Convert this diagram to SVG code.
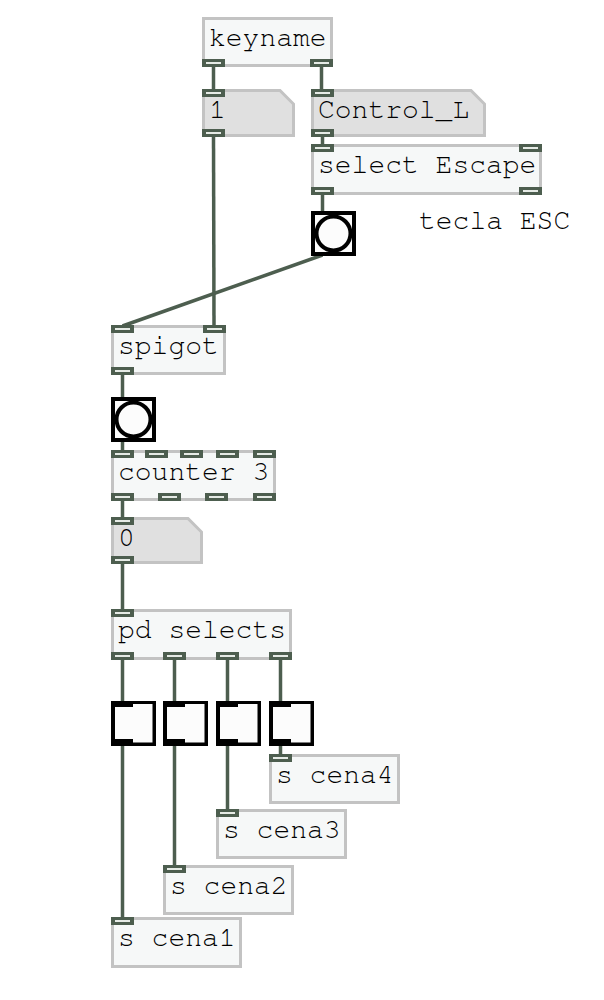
<svg xmlns="http://www.w3.org/2000/svg" xmlns:xlink="http://www.w3.org/1999/xlink" width="604" height="1000" viewBox="0 0 604 1000">
<style>
.obj{fill:#f6f8f8;stroke:#c3c3c3;stroke-width:3}
.msg{fill:#e0e0e0;stroke:#c3c3c3;stroke-width:3}
.t{font-family:"Nimbus Mono PS","Nimbus Mono L","FreeMono","Courier New","Liberation Mono",monospace;font-size:28px;fill:#000}
.cn{stroke:#4d5e4f;stroke-width:3.5;fill:none}
.bng{fill:#fcfcfc;stroke:#000;stroke-width:4}
.tgl{fill:#000}
.tw{fill:#fcfcfc}
</style>
<defs>
<g id="io"><rect width="23" height="8" fill="#4d5e4f"/><rect x="4" y="3" width="15" height="2" fill="#e6ebe6"/></g>
</defs>
<rect width="604" height="1000" fill="#fff"/>
<g id="connectors">
<line class="cn" x1="213.5" y1="67" x2="213.5" y2="89"/>
<line class="cn" x1="321.5" y1="67" x2="321.5" y2="89"/>
<line class="cn" x1="322.5" y1="137" x2="322.5" y2="144"/>
<line class="cn" x1="322.5" y1="195" x2="322.5" y2="211"/>
<line class="cn" x1="322.5" y1="255" x2="122.5" y2="326"/>
<line class="cn" x1="213.5" y1="137" x2="214" y2="326"/>
<line class="cn" x1="122.5" y1="375" x2="122.5" y2="397"/>
<line class="cn" x1="122.5" y1="442" x2="122.5" y2="450"/>
<line class="cn" x1="122.5" y1="501" x2="122.5" y2="517"/>
<line class="cn" x1="122.5" y1="564" x2="122.5" y2="609"/>
<line class="cn" x1="122.5" y1="660" x2="122.5" y2="701"/>
<line class="cn" x1="174.5" y1="660" x2="174.5" y2="701"/>
<line class="cn" x1="227.5" y1="660" x2="227.5" y2="701"/>
<line class="cn" x1="280.5" y1="660" x2="280.5" y2="701"/>
<line class="cn" x1="122.5" y1="746" x2="122.5" y2="917"/>
<line class="cn" x1="174.5" y1="746" x2="174.5" y2="865"/>
<line class="cn" x1="227.5" y1="746" x2="227.5" y2="809"/>
<line class="cn" x1="280.5" y1="746" x2="280.5" y2="754"/>
</g>
<g id="keyname">
<rect class="obj" x="203.5" y="18.5" width="128" height="47"/>
<text class="t" x="209" y="45.5">keyname</text>
<use xlink:href="#io" x="202" y="59"/><use xlink:href="#io" x="310" y="59"/>
</g>
<g id="msg1">
<polygon class="msg" points="203.5,90.5 280,90.5 293.5,104 293.5,135.5 203.5,135.5"/>
<text class="t" x="209" y="117.5">1</text>
<use xlink:href="#io" x="202" y="89"/><use xlink:href="#io" x="202" y="129"/>
</g>
<g id="msgControl">
<polygon class="msg" points="312.5,90.5 471,90.5 484.5,104 484.5,135.5 312.5,135.5"/>
<text class="t" x="318" y="117.5">Control_L</text>
<use xlink:href="#io" x="311" y="89"/><use xlink:href="#io" x="311" y="129"/>
</g>
<g id="select">
<rect class="obj" x="312.5" y="145.5" width="228" height="48"/>
<text class="t" x="318" y="173">select Escape</text>
<use xlink:href="#io" x="311" y="144"/><use xlink:href="#io" x="519" y="144"/>
<use xlink:href="#io" x="311" y="187"/><use xlink:href="#io" x="519" y="187"/>
</g>
<g id="bang1">
<rect class="bng" x="313" y="213" width="41" height="41"/>
<circle class="bng" cx="333.5" cy="233.5" r="17"/>
</g>
<g id="comment">
<text class="t" x="419" y="229">tecla ESC</text>
</g>
<g id="spigot">
<rect class="obj" x="112.5" y="326.5" width="112" height="47"/>
<text class="t" x="118" y="354">spigot</text>
<use xlink:href="#io" x="111" y="325"/><use xlink:href="#io" x="203" y="325"/>
<use xlink:href="#io" x="111" y="367"/>
</g>
<g id="bang2">
<rect class="bng" x="113" y="399" width="41" height="41"/>
<circle class="bng" cx="133.5" cy="419.5" r="17"/>
</g>
<g id="counter">
<rect class="obj" x="112.5" y="451.5" width="162" height="48"/>
<text class="t" x="118" y="479.5">counter 3</text>
<use xlink:href="#io" x="111" y="450"/><use xlink:href="#io" x="145" y="450"/>
<use xlink:href="#io" x="180" y="450"/><use xlink:href="#io" x="216" y="450"/>
<use xlink:href="#io" x="253" y="450"/>
<use xlink:href="#io" x="111" y="493"/><use xlink:href="#io" x="158" y="493"/>
<use xlink:href="#io" x="205" y="493"/><use xlink:href="#io" x="253" y="493"/>
</g>
<g id="msg0">
<polygon class="msg" points="112.5,518.5 188,518.5 201.5,532 201.5,562.5 112.5,562.5"/>
<text class="t" x="118" y="545.5">0</text>
<use xlink:href="#io" x="111" y="517"/><use xlink:href="#io" x="111" y="556"/>
</g>
<g id="pdselects">
<rect class="obj" x="112.5" y="610.5" width="178" height="48"/>
<text class="t" x="118" y="638">pd selects</text>
<use xlink:href="#io" x="111" y="609"/>
<use xlink:href="#io" x="111" y="652"/><use xlink:href="#io" x="163" y="652"/>
<use xlink:href="#io" x="216" y="652"/><use xlink:href="#io" x="269" y="652"/>
</g>
<g id="toggle1">
<rect class="tgl" x="111" y="701" width="45" height="45"/>
<rect class="tw" x="115" y="707" width="19" height="32"/><rect class="tw" x="133" y="704" width="19.5" height="38.5"/>
</g>
<g id="toggle2">
<rect class="tgl" x="163" y="701" width="45" height="45"/>
<rect class="tw" x="167" y="707" width="19" height="32"/><rect class="tw" x="185" y="704" width="19.5" height="38.5"/>
</g>
<g id="toggle3">
<rect class="tgl" x="216" y="701" width="45" height="45"/>
<rect class="tw" x="220" y="707" width="19" height="32"/><rect class="tw" x="238" y="704" width="19.5" height="38.5"/>
</g>
<g id="toggle4">
<rect class="tgl" x="269" y="701" width="45" height="45"/>
<rect class="tw" x="273" y="707" width="19" height="32"/><rect class="tw" x="291" y="704" width="19.5" height="38.5"/>
</g>
<g id="scena4">
<rect class="obj" x="270.5" y="755.5" width="128" height="47"/>
<text class="t" x="276" y="782.5">s cena4</text>
<use xlink:href="#io" x="269" y="754"/>
</g>
<g id="scena3">
<rect class="obj" x="217.5" y="810.5" width="128" height="47"/>
<text class="t" x="223" y="837.5">s cena3</text>
<use xlink:href="#io" x="216" y="809"/>
</g>
<g id="scena2">
<rect class="obj" x="164.5" y="866.5" width="128" height="47"/>
<text class="t" x="170" y="893.5">s cena2</text>
<use xlink:href="#io" x="163" y="865"/>
</g>
<g id="scena1">
<rect class="obj" x="112.5" y="918.5" width="128" height="48"/>
<text class="t" x="118" y="946">s cena1</text>
<use xlink:href="#io" x="111" y="917"/>
</g>
</svg>
